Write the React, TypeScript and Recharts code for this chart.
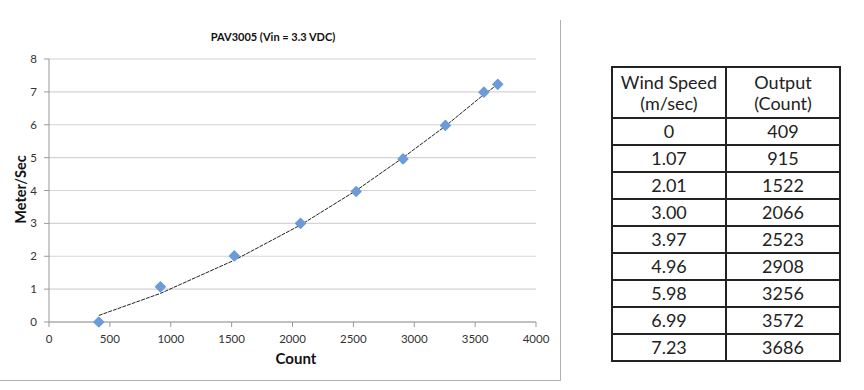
import React from 'react';
import {
  ScatterChart,
  Scatter,
  XAxis,
  YAxis,
  CartesianGrid,
} from 'recharts';

// readings from the sensor table
const windSpeed = [0, 1.07, 2.01, 3.0, 3.97, 4.96, 5.98, 6.99, 7.23];
const outputCount = [409, 915, 1522, 2066, 2523, 2908, 3256, 3572, 3686];
// trendline, at the same counts
const trendSpeed = [0.2, 0.87, 1.88, 2.95, 4.0, 5.0, 5.96, 6.92, 7.23];

const xTicks = [0, 500, 1000, 1500, 2000, 2500, 3000, 3500, 4000];
const yTicks = [0, 1, 2, 3, 4, 5, 6, 7, 8];

const points = outputCount.map((c, i) => ({ count: c, speed: windSpeed[i] }));
const trend = outputCount.map((c, i) => ({ count: c, speed: trendSpeed[i] }));

const chartFont = 'Lato, "Open Sans", sans-serif';

function Diamond(props: any) {
  const { cx, cy } = props;
  if (cx == null || cy == null) return null;
  const r = 4.8;
  return (
    <polygon
      points={`${cx},${cy - r} ${cx + r},${cy} ${cx},${cy + r} ${cx - r},${cy}`}
      fill="#6b9bd8"
      stroke="#6b9bd8"
      strokeWidth={1.5}
      strokeLinejoin="round"
    />
  );
}

function speedLabel(v: number, i: number) {
  return i === 0 ? '0' : v.toFixed(2);
}

const cell: React.CSSProperties = {
  border: '2px solid #222',
  textAlign: 'center',
  padding: 0,
  height: 25,
  width: 112,
};

const tickStyle = { fontSize: 11.5, fill: '#333', fontFamily: chartFont };

export default function App() {
  return (
    <div style={{ position: 'absolute', left: 0, top: 0, width: 864, height: 390, background: '#fff' }}>
      {/* chart frame */}
      <div style={{ position: 'absolute', left: 0, top: 20, width: 560, height: 360, borderRight: '1px solid #b0b0b0', borderBottom: '1px solid #b0b0b0' }} />
      <div style={{ position: 'absolute', left: 0, top: 0 }}>
        <ScatterChart width={560} height={380} margin={{ top: 59, right: 24, bottom: 28, left: 9 }}>
          <CartesianGrid horizontal vertical={false} stroke="#d4d4d4" strokeWidth={1.2} />
          <XAxis
            type="number"
            dataKey="count"
            domain={[0, 4000]}
            ticks={xTicks}
            height={30}
            interval={0}
            axisLine={{ stroke: '#999' }}
            tickLine={{ stroke: '#999' }}
            tickSize={5}
            tickMargin={8}
            tick={tickStyle}
          />
          <YAxis
            type="number"
            dataKey="speed"
            domain={[0, 8]}
            ticks={yTicks}
            width={40}
            interval={0}
            axisLine={{ stroke: '#999' }}
            tickLine={{ stroke: '#999' }}
            tickSize={5}
            tickMargin={7}
            tick={tickStyle}
          />
          <Scatter
            data={trend}
            line={{ stroke: '#222', strokeWidth: 1, strokeDasharray: '4 1' }}
            shape={() => null}
            isAnimationActive={false}
          />
          <Scatter data={points} shape={<Diamond />} isAnimationActive={false} />
        </ScatterChart>
      </div>
      <div style={{ position: 'absolute', left: 0, width: 546, top: 30, textAlign: 'center', fontFamily: chartFont, fontWeight: 700, fontSize: 11, color: '#111' }}>
        PAV3005 (Vin = 3.3 VDC)
      </div>
      <div style={{ position: 'absolute', left: 246, width: 100, top: 349, textAlign: 'center', fontFamily: chartFont, fontWeight: 700, fontSize: 15, color: '#111' }}>
        Count
      </div>
      <div style={{ position: 'absolute', left: -30, width: 100, top: 181, textAlign: 'center', fontFamily: chartFont, fontWeight: 700, fontSize: 14.5, color: '#111', transform: 'rotate(-90deg)' }}>
        Meter/Sec
      </div>
      {/* data table */}
      <table style={{ position: 'absolute', left: 611, top: 66, borderCollapse: 'collapse', fontFamily: 'Lato, sans-serif', fontSize: 18, color: '#222', lineHeight: '21px' }}>
        <tbody>
          <tr>
            <td style={{ ...cell, height: 49 }}>Wind Speed<br />(m/sec)</td>
            <td style={{ ...cell, height: 49 }}>Output<br />(Count)</td>
          </tr>
          {windSpeed.map((v, i) => (
            <tr key={i}>
              <td style={cell}>{speedLabel(v, i)}</td>
              <td style={cell}>{outputCount[i]}</td>
            </tr>
          ))}
        </tbody>
      </table>
    </div>
  );
}
